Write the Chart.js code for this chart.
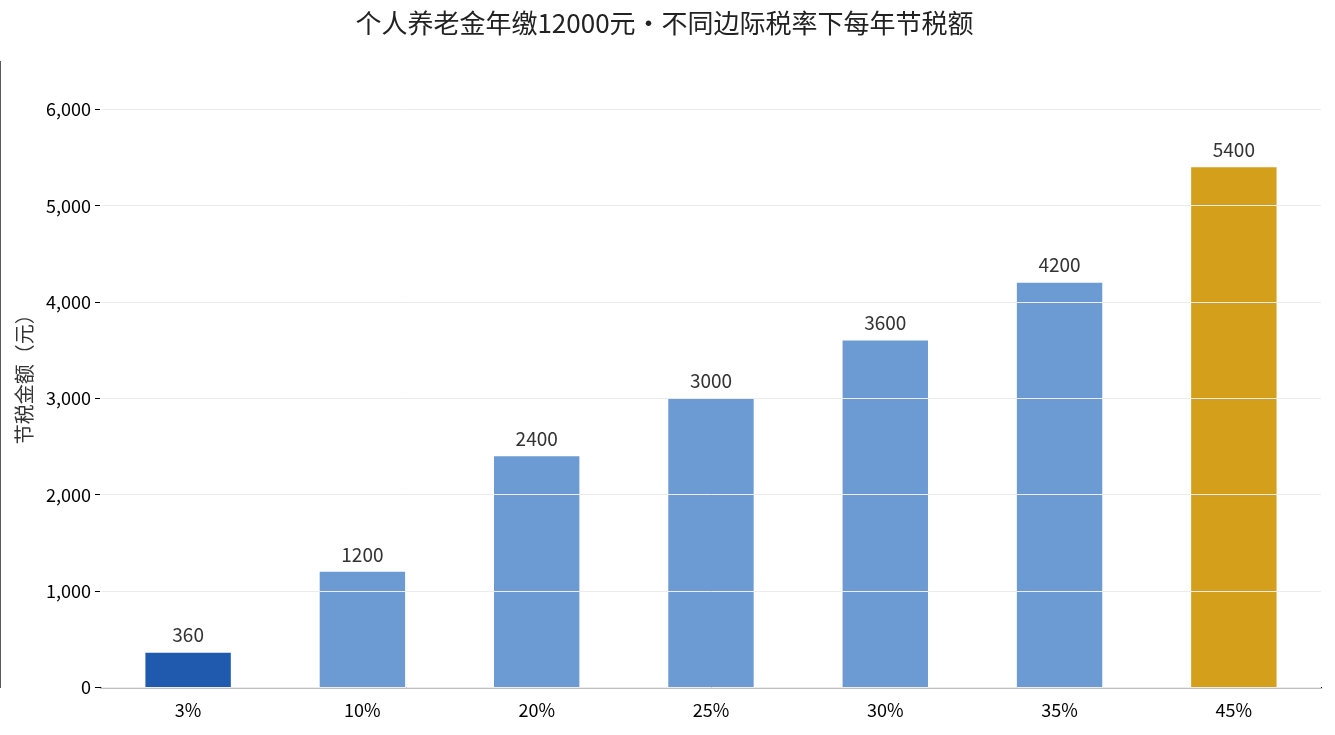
<!DOCTYPE html>
<html>
<head>
<meta charset="utf-8">
<script src="https://cdn.jsdelivr.net/npm/chart.js@4/dist/chart.umd.min.js"></script>
<style>
  html, body { margin: 0; padding: 0; background: #fff; }
  #wrap { width: 1335px; height: 735px; }
</style>
</head>
<body>
<div id="wrap"><canvas id="chart"></canvas></div>
<script>
const categories = ["3%", "10%", "20%", "25%", "30%", "35%", "45%"];
const savings = [360, 1200, 2400, 3000, 3600, 4200, 5400];
const barColors = ["#1f5aaf", "#6b9bd2", "#6b9bd2", "#6b9bd2", "#6b9bd2", "#6b9bd2", "#d4a01b"];

const font = "'Noto Sans CJK SC', 'Noto Sans', sans-serif";

// value labels above each bar
const valueLabels = {
  id: "valueLabels",
  afterDatasetsDraw(chart) {
    const ctx = chart.ctx;
    const meta = chart.getDatasetMeta(0);
    ctx.save();
    ctx.fillStyle = "#333";
    ctx.font = "19px " + font;
    ctx.textAlign = "center";
    ctx.textBaseline = "bottom";
    meta.data.forEach(function(bar, i) {
      ctx.fillText(String(savings[i]), bar.x, bar.y - 8);
    });
    ctx.restore();
  }
};

new Chart(document.getElementById("chart"), {
  type: "bar",
  plugins: [valueLabels],
  data: {
    labels: categories,
    datasets: [{
      data: savings,
      backgroundColor: barColors,
      barPercentage: 0.49,
      categoryPercentage: 1.0
    }]
  },
  options: {
    responsive: true,
    maintainAspectRatio: false,
    animation: false,
    layout: { padding: { left: 8, right: 14, top: 0, bottom: 10 } },
    plugins: {
      legend: { display: false },
      tooltip: { enabled: false },
      title: {
        display: true,
        text: "个人养老金年缴12000元・不同边际税率下每年节税额",
        color: "#222",
        font: { family: font, size: 26, weight: "normal" },
        padding: { top: 8, bottom: 22 }
      }
    },
    scales: {
      x: {
        grid: { display: false, drawTicks: true },
        border: { color: "#000", width: 1.3 },
        ticks: { color: "#000", font: { family: font, size: 18 }, padding: 4 }
      },
      y: {
        min: 0,
        max: 6500,
        afterBuildTicks(axis) {
          axis.ticks = [0, 1000, 2000, 3000, 4000, 5000, 6000].map(v => ({ value: v }));
        },
        grid: { color: "#ececec", z: 1, drawTicks: true, tickColor: "#000", tickLength: 6 },
        border: { color: "#000", width: 1.3 },
        ticks: { color: "#000", font: { family: font, size: 18 }, padding: 4 },
        title: {
          display: true,
          text: "节税金额（元）",
          color: "#333",
          font: { family: font, size: 20 },
          padding: { bottom: 6 }
        }
      }
    }
  }
});
</script>
</body>
</html>
